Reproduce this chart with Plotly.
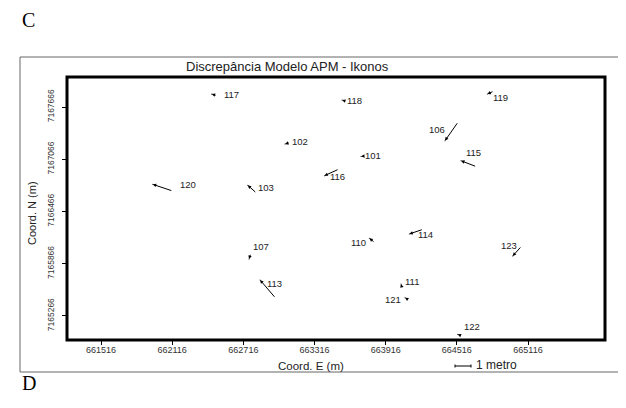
import plotly.graph_objects as go

# ---- data (map coordinates, m) ----
stations = ["117", "118", "102", "101", "116", "120", "103", "119", "106",
            "115", "107", "113", "110", "114", "123", "111", "121", "122"]
# arrow tail (start) coordinates
tail_E = [662494, 663573, 663109, 663742, 663523, 662121, 662829, 664829, 664528,
          664683, 662778, 662989, 663826, 664233, 665063, 664054, 664104, 664547]
tail_N = [7167796, 7167735, 7167258, 7167103, 7166954, 7166701, 7166675, 7167850, 7167497,
          7166980, 7165986, 7165469, 7166108, 7166262, 7166070, 7165587, 7165455, 7165042]
# arrow head (end) coordinates
head_E = [662449, 663548, 663067, 663708, 663399, 661952, 662753, 664773, 664416,
          664551, 662764, 662857, 663778, 664115, 664987, 664045, 664079, 664523]
head_N = [7167815, 7167746, 7167241, 7167098, 7166877, 7166778, 7166767, 7167815, 7167279,
          7167049, 7165920, 7165679, 7166158, 7166208, 7165955, 7165633, 7165476, 7165056]

x_ticks = [661516, 662116, 662716, 663316, 663916, 664516, 665116]
y_ticks = [7165266, 7165866, 7166466, 7167066, 7167666]

# ---- label placement (style: anchor, pixel shifts) ----
label_style = {
    "117": ("left", 10, 0), "118": ("left", 3, 0), "102": ("left", 5, 3),
    "101": ("left", 2, 1), "116": ("left", 4, -1), "120": ("left", 25, 0),
    "103": ("left", 8, -2), "119": ("left", 4, -3), "106": ("right", 2, 11),
    "115": ("left", 3, 8), "107": ("left", 2, 13), "113": ("left", 5, -3),
    "110": ("right", -1, -4), "114": ("left", 7, -1), "123": ("center", -4, 10),
    "111": ("left", 2, 3), "121": ("right", -2, -2), "122": ("left", 4, 8),
}

SANS = "Liberation Sans, Arial"
NARROW = "Liberation Sans Narrow, Liberation Sans, Arial"

fig = go.Figure()
fig.add_trace(go.Scatter(x=head_E, y=head_N, mode="markers",
                         marker=dict(size=1, color="black"), hoverinfo="skip",
                         showlegend=False))

ann = []
for s, xe, ye, xt, yt in zip(stations, head_E, head_N, tail_E, tail_N):
    ann.append(dict(x=xe, y=ye, ax=xt, ay=yt, xref="x", yref="y", axref="x", ayref="y",
                    text="", showarrow=True, arrowhead=2, arrowsize=0.7, arrowwidth=1,
                    arrowcolor="black", standoff=0, startstandoff=0))
    anc, dx, dy = label_style[s]
    ann.append(dict(x=xe, y=ye, xref="x", yref="y", text=s, showarrow=False,
                    xanchor=anc, yanchor="middle", xshift=dx, yshift=dy,
                    font=dict(family=SANS, size=9.5, color="#222")))


def px(xp):
    return (xp - 67) / 538


def py(yp):
    return (340 - yp) / 263


# text outside the plot
ann += [
    dict(x=px(287), y=py(67), xref="paper", yref="paper", text="Discrepância Modelo APM - Ikonos",
         showarrow=False, xanchor="center", yanchor="middle",
         font=dict(family=SANS, size=13, color="#222")),
    dict(x=px(311), y=py(366), xref="paper", yref="paper", text="Coord. E (m)",
         showarrow=False, xanchor="center", yanchor="middle",
         font=dict(family=SANS, size=11.5, color="#222")),
    dict(x=px(32), y=py(213), xref="paper", yref="paper", text="Coord. N (m)",
         showarrow=False, textangle=-90, xanchor="center", yanchor="middle",
         font=dict(family=NARROW, size=11, color="#222")),
    dict(x=px(474), y=py(365), xref="paper", yref="paper", text="1 metro",
         showarrow=False, xanchor="left", yanchor="middle",
         font=dict(family=SANS, size=12, color="#222")),
    dict(x=px(20), y=py(20), xref="paper", yref="paper", text="C",
         showarrow=False, xanchor="left", yanchor="middle",
         font=dict(family="Liberation Serif, Times New Roman", size=20, color="black")),
    dict(x=px(20), y=py(383), xref="paper", yref="paper", text="D",
         showarrow=False, xanchor="left", yanchor="middle",
         font=dict(family="Liberation Serif, Times New Roman", size=20, color="black")),
]

shapes = [
    # outer frame
    dict(type="rect", xref="paper", yref="paper", x0=px(20), x1=px(660), y0=py(372), y1=py(57),
         line=dict(color="#666", width=1)),
    # plot box
    dict(type="rect", xref="paper", yref="paper", x0=0, x1=1, y0=0, y1=1,
         line=dict(color="black", width=3)),
    # scale bar
    dict(type="line", xref="paper", yref="paper", x0=px(455), x1=px(471), y0=py(366), y1=py(366),
         line=dict(color="black", width=1)),
    dict(type="line", xref="paper", yref="paper", x0=px(455), x1=px(455), y0=py(364.5), y1=py(367.5),
         line=dict(color="black", width=1)),
    dict(type="line", xref="paper", yref="paper", x0=px(471), x1=px(471), y0=py(364.5), y1=py(367.5),
         line=dict(color="black", width=1)),
]

# page body has an 8 px margin: plot area spans 67..605 x 77..340 in the window
OFF = 8
fig.update_layout(
    width=626 - OFF, height=408 - OFF,
    margin=dict(l=67 - OFF, r=21, t=77 - OFF, b=68),
    paper_bgcolor="white", plot_bgcolor="white",
    annotations=ann, shapes=shapes, showlegend=False,
    xaxis=dict(range=[661229, 665765], tickvals=x_ticks, ticktext=[str(v) for v in x_ticks],
               showgrid=False, zeroline=False, ticks="outside", ticklen=4, tickcolor="black",
               ticklabelstandoff=-3,
               tickfont=dict(family=SANS, size=9, color="#333")),
    yaxis=dict(range=[7164990, 7168011], tickvals=y_ticks, ticktext=[str(v) for v in y_ticks],
               showgrid=False, zeroline=False, ticks="outside", ticklen=4, tickcolor="black",
               tickangle=-90, ticklabelstandoff=5,
               tickfont=dict(family=NARROW, size=8.5, color="#333")),
)

fig.write_html("out.html")
